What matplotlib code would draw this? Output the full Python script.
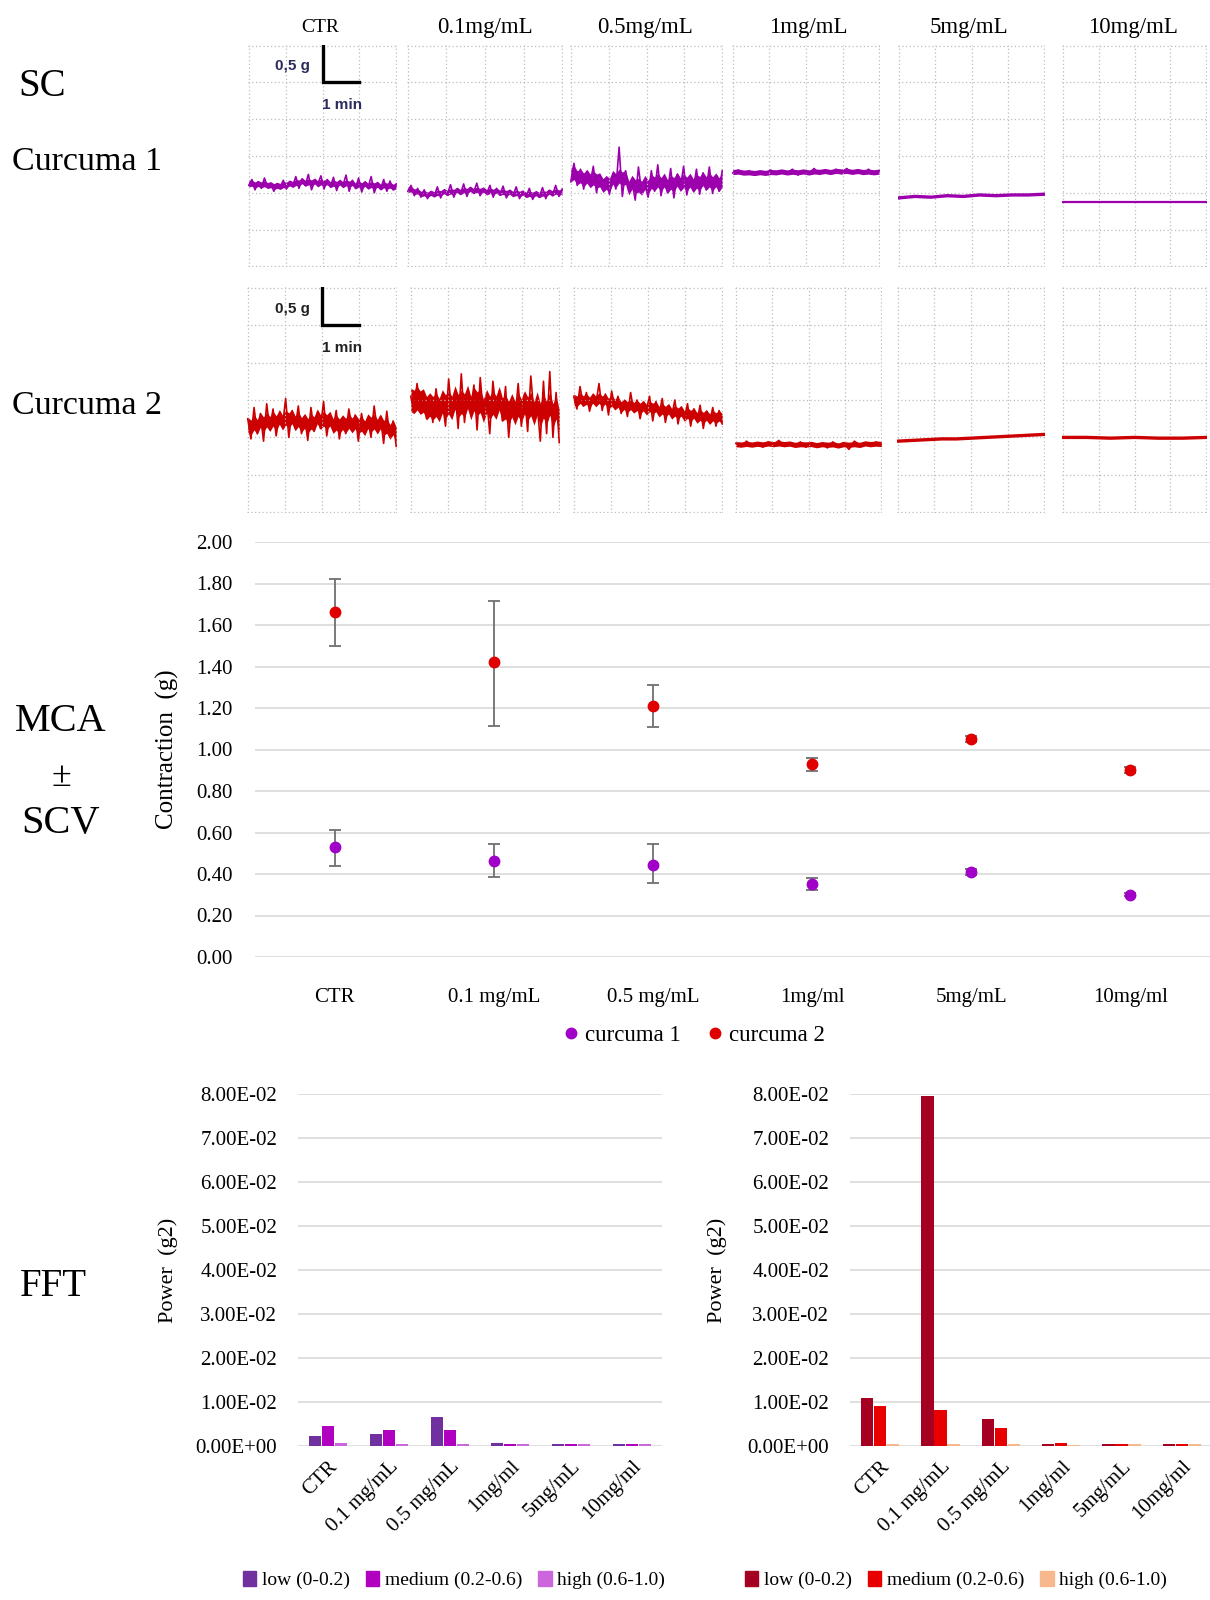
import numpy as np
import matplotlib.pyplot as plt
from matplotlib.patches import Patch
from matplotlib.lines import Line2D
from matplotlib.ticker import FuncFormatter

plt.rcParams['font.family'] = ['Liberation Serif', 'DejaVu Serif']

W, H = 1210, 1600

# ---------------------------------------------------------------------------
# Data
DOSES_HEAD = ["CTR", "0.1mg/mL", "0.5mg/mL", "1mg/mL", "5mg/mL", "10mg/mL"]
DOSES = ["CTR", "0.1 mg/mL", "0.5 mg/mL", "1mg/ml", "5mg/mL", "10mg/ml"]

# Raw traces (g), one list per dose, 4 minutes per panel
TRACE_C1 = [
    [1.10, 1.18, 1.04, 1.15, 1.06, 1.20, 1.08, 1.13, 1.02, 1.12, 1.07, 1.17, 1.05, 1.14, 1.09, 1.22,
     1.06, 1.19, 1.10, 1.25, 1.04, 1.16, 1.12, 1.23, 1.05, 1.18, 1.08, 1.21, 1.03, 1.15, 1.10, 1.24,
     1.02, 1.17, 1.06, 1.20, 1.01, 1.14, 1.07, 1.22, 1.00, 1.13, 1.05, 1.18, 1.02, 1.16, 1.04, 1.12],
    [1.02, 1.10, 0.96, 1.06, 0.94, 1.04, 0.92, 1.01, 0.95, 1.08, 0.93, 1.03, 0.97, 1.11, 0.94, 1.05,
     0.98, 1.12, 0.95, 1.07, 1.00, 1.13, 0.96, 1.04, 0.99, 1.10, 0.94, 1.06, 0.97, 1.09, 0.93, 1.02,
     0.96, 1.08, 0.92, 1.01, 0.95, 1.06, 0.91, 1.00, 0.94, 1.07, 0.92, 1.03, 0.96, 1.10, 0.95, 1.05],
    [1.15, 1.40, 1.10, 1.32, 1.05, 1.28, 1.12, 1.36, 1.00, 1.25, 1.08, 1.18, 0.98, 1.22, 1.05, 1.62,
     0.95, 1.30, 1.02, 1.15, 0.90, 1.35, 1.00, 1.12, 0.94, 1.30, 1.02, 1.38, 0.96, 1.20, 1.00, 1.33,
     0.93, 1.25, 1.05, 1.36, 0.97, 1.18, 1.03, 1.32, 0.98, 1.27, 1.04, 1.35, 0.99, 1.22, 1.02, 1.30],
    [1.27, 1.31, 1.25, 1.30, 1.24, 1.29, 1.26, 1.31, 1.25, 1.30, 1.27, 1.32, 1.24, 1.30, 1.26, 1.33,
     1.25, 1.31, 1.27, 1.32, 1.26, 1.33, 1.27, 1.31, 1.25, 1.32, 1.26, 1.30],
    [0.93, 0.95, 0.94, 0.96, 0.95, 0.97, 0.96, 0.97, 0.97, 0.98],
    [0.88, 0.88, 0.88],
]
TRACE_C2 = [
    [1.25, 0.98, 1.40, 1.05, 1.32, 0.95, 1.45, 1.10, 1.38, 1.02, 1.30, 1.15, 1.52, 1.00, 1.35, 1.12,
     1.42, 1.05, 1.28, 0.96, 1.40, 1.08, 1.33, 1.12, 1.48, 1.02, 1.30, 1.10, 1.36, 0.98, 1.25, 1.05,
     1.38, 1.12, 1.30, 0.95, 1.32, 1.08, 1.26, 1.00, 1.42, 1.10, 1.28, 0.92, 1.35, 1.00, 1.22, 0.88],
    [1.55, 1.35, 1.72, 1.40, 1.60, 1.25, 1.50, 1.20, 1.65, 1.35, 1.48, 1.15, 1.78, 1.30, 1.62, 1.12,
     1.85, 1.20, 1.58, 1.38, 1.70, 1.10, 1.80, 1.28, 1.55, 1.05, 1.75, 1.35, 1.62, 1.22, 1.68, 1.00,
     1.50, 1.25, 1.72, 1.15, 1.58, 1.08, 1.82, 1.30, 1.45, 0.95, 1.75, 1.05, 1.88, 1.00, 1.60, 0.93],
    [1.55, 1.38, 1.68, 1.42, 1.60, 1.35, 1.52, 1.45, 1.72, 1.36, 1.58, 1.30, 1.62, 1.40, 1.55, 1.32,
     1.48, 1.28, 1.60, 1.35, 1.50, 1.25, 1.45, 1.38, 1.55, 1.22, 1.48, 1.30, 1.52, 1.20, 1.42, 1.28,
     1.50, 1.18, 1.40, 1.25, 1.45, 1.15, 1.38, 1.22, 1.43, 1.12, 1.35, 1.20, 1.40, 1.15, 1.36, 1.18],
    [0.92, 0.88, 0.95, 0.89, 0.93, 0.87, 0.94, 0.90, 0.96, 0.88, 0.92, 0.89, 0.94, 0.87, 0.93, 0.90,
     0.92, 0.86, 0.94, 0.89, 0.93, 0.84, 0.95, 0.90, 0.93, 0.88, 0.94, 0.90],
    [0.95, 0.96, 0.97, 0.98, 0.98, 0.99, 1.00, 1.01, 1.02, 1.03, 1.04],
    [1.00, 1.00, 0.99, 1.00, 0.99, 0.99, 1.00],
]

# Mean contraction amplitude with error range (g)
C1_MEAN = [0.53, 0.465, 0.445, 0.35, 0.41, 0.30]
C1_LOW = [0.44, 0.385, 0.355, 0.325, 0.395, 0.295]
C1_HIGH = [0.61, 0.545, 0.545, 0.38, 0.425, 0.31]
C2_MEAN = [1.665, 1.42, 1.21, 0.93, 1.05, 0.90]
C2_LOW = [1.50, 1.115, 1.11, 0.895, 1.035, 0.885]
C2_HIGH = [1.82, 1.715, 1.31, 0.96, 1.065, 0.915]

# FFT power (g2) per band
BANDS = ["low (0-0.2)", "medium (0.2-0.6)", "high (0.6-1.0)"]
FFT_C1 = [
    [0.0023, 0.0027, 0.0065, 0.0007, 0.0004, 0.0004],
    [0.0046, 0.0036, 0.0037, 0.0004, 0.0004, 0.0004],
    [0.0007, 0.0004, 0.0004, 0.0004, 0.0004, 0.0004],
]
FFT_C2 = [
    [0.0110, 0.0795, 0.0062, 0.0004, 0.0004, 0.0004],
    [0.0091, 0.0081, 0.0040, 0.0007, 0.0004, 0.0004],
    [0.0004, 0.0004, 0.0004, 0.0003, 0.0004, 0.0004],
]

# Colours
C1_TRACE = "#9C00AC"
C2_TRACE = "#CC0000"
C1_DOT = "#A000C8"
C2_DOT = "#E00000"
C1_BANDS = ["#7030A0", "#B000C0", "#CC66DD"]
C2_BANDS = ["#A50021", "#E80000", "#F8B88E"]
GRID = "#D9D9D9"

fig = plt.figure(figsize=(W / 100, H / 100), dpi=100)


def px_axes(x0, y0, x1, y1):
    return fig.add_axes([x0 / W, 1 - y1 / H, (x1 - x0) / W, (y1 - y0) / H])


def fig_text(x, y, s, **kw):
    fig.text(x / W, 1 - y / H, s, **kw)


#___________________________________________________________________________
# Traces
ROW1 = (45, 267, [(248, 397), (407, 563), (570, 723), (732, 880), (898, 1045), (1062, 1207)])
ROW2 = (287, 513, [(247, 397), (410, 560), (573, 723), (735, 882), (897, 1045), (1062, 1207)])


def draw_trace_row(row, traces, color, bar_col, txt_col):
    y0, y1, panels = row
    axes = []
    for (x0, x1), vals in zip(panels, traces):
        ax = px_axes(x0, y0, x1, y1)
        v = np.array(vals)
        t = np.linspace(0, 4, len(v))
        if len(v) > 20:
            # dense recording: solid core around the running mean, spikes on top
            pad = np.r_[v[:2], v, v[-2:]]
            mid = np.convolve(pad, np.ones(5) / 5, mode="valid")
            core = max(0.7 * np.std(v - mid), 0.035)
            ax.fill_between(t, mid - core, mid + core, color=color, lw=0)
            ax.plot(t, v, color=color, lw=1.2)
        else:
            ax.plot(t, v, color=color, lw=2.4 if len(v) > 5 else 1.6)
        ax.set_xlim(-0.02, 4.02)
        ax.set_ylim(-0.01, 3.01)
        ax.set_xticks(np.arange(0, 5))
        ax.set_yticks(np.arange(0, 3.01, 0.5))
        ax.grid(True, color="#BDBDBD", lw=0.9, ls=(0, (1, 2)))
        ax.tick_params(length=0, labelbottom=False, labelleft=False)
        for s in ax.spines.values():
            s.set_visible(False)
        axes.append(ax)
    # scale bar in the first panel
    ax = axes[0]
    ax.plot([2.0, 2.0, 3.0], [3.0, 2.5, 2.5], color=bar_col, lw=2.4, solid_joinstyle="miter")
    ax.text(1.66, 2.72, "0,5 g", color=txt_col, fontsize=11, fontweight="bold",
            family="Liberation Sans", ha="right", va="center")
    ax.text(2.0, 2.2, "1 min", color=txt_col, fontsize=11, fontweight="bold",
            family="Liberation Sans", ha="left", va="center")


draw_trace_row(ROW1, TRACE_C1, C1_TRACE, "black", "#2B2B5E")
draw_trace_row(ROW2, TRACE_C2, C2_TRACE, "black", "#222222")

head_x = [320, 485, 645, 808, 969, 1133]
for i, lab in enumerate(DOSES_HEAD):
    fig_text(head_x[i], 27, lab, fontsize=14 if i == 0 else 16.5, ha="center", va="center")

fig_text(18, 86, "SC", fontsize=28, ha="left", va="center")
fig_text(12, 162, "Curcuma 1", fontsize=24.5, ha="left", va="center")
fig_text(12, 406, "Curcuma 2", fontsize=24.5, ha="left", va="center")
fig_text(61, 721, "MCA", fontsize=29, ha="center", va="center")
fig_text(61, 777, "\u00b1", fontsize=26, ha="center", va="center")
fig_text(61, 823, "SCV", fontsize=29, ha="center", va="center")
fig_text(20, 1286, "FFT", fontsize=28, ha="left", va="center")

#___________________________________________________________________________
# Mean contraction amplitude
ax = px_axes(255, 542, 1210, 957)
x = np.arange(len(DOSES))
for mean, lo, hi, col in [(C1_MEAN, C1_LOW, C1_HIGH, C1_DOT), (C2_MEAN, C2_LOW, C2_HIGH, C2_DOT)]:
    mean = np.array(mean)
    yerr = [mean - np.array(lo), np.array(hi) - mean]
    ax.errorbar(x, mean, yerr=yerr, fmt="o", color=col, ms=7.5, ecolor="#707070",
                elinewidth=1.3, capsize=4, capthick=1.3, zorder=3)
ax.set_xlim(-0.5, 5.5)
ax.set_ylim(0, 2.0)
ax.set_yticks(np.arange(0, 2.01, 0.2))
ax.yaxis.set_major_formatter(FuncFormatter(lambda v, p: f"{v:.2f}"))
ax.set_xticks(x)
ax.set_xticklabels(DOSES)
ax.grid(True, axis="y", color=GRID, lw=1.2)
ax.set_axisbelow(True)
ax.tick_params(length=0, labelsize=15)
ax.tick_params(axis="y", pad=16)
ax.tick_params(axis="x", pad=22)
for s in ax.spines.values():
    s.set_visible(False)
ax.set_ylabel("Contraction  (g)", fontsize=18)
ax.yaxis.set_label_coords(-0.08, 0.5)

handles = [Line2D([], [], marker="o", ls="", color=C1_DOT, ms=7.5),
           Line2D([], [], marker="o", ls="", color=C2_DOT, ms=7.5)]
fig.legend(handles, ["curcuma 1", "curcuma 2"], loc="center", bbox_to_anchor=(692 / W, 1 - 1035 / H),
           ncol=2, frameon=False, fontsize=16.5, handletextpad=0.1, columnspacing=1.0, handlelength=1.0)

#___________________________________________________________________________
# FFT bars


def draw_fft(x0, x1, data, colors, label_x, leg_x):
    ax = px_axes(x0, 1094, x1, 1446)
    pos = np.arange(len(DOSES))
    offs = [-0.215, 0, 0.215]
    for k in range(3):
        ax.bar(pos + offs[k], data[k], width=0.2, color=colors[k], zorder=3)
    ax.set_xlim(-0.5, 5.5)
    ax.set_ylim(0, 0.08)
    ax.set_yticks(np.arange(0, 0.0801, 0.01))
    ax.yaxis.set_major_formatter(FuncFormatter(lambda v, p: f"{v:.2E}"))
    ax.set_xticks(pos)
    ax.set_xticklabels(DOSES, rotation=45, ha="right", rotation_mode="anchor")
    ax.grid(True, axis="y", color=GRID, lw=1.2)
    ax.set_axisbelow(True)
    ax.tick_params(length=0, labelsize=15)
    ax.tick_params(axis="y", pad=15)
    ax.tick_params(axis="x", pad=8)
    for s in ax.spines.values():
        s.set_visible(False)
    ax.set_ylabel("Power  (g2)", fontsize=16)
    ax.yaxis.set_label_coords(label_x, 0.5)
    h = [Patch(color=c) for c in colors]
    fig.legend(h, BANDS, loc="center", bbox_to_anchor=(leg_x / W, 1 - 1580 / H), ncol=3,
               frameon=False, fontsize=14, handlelength=0.7, handleheight=0.8,
               handletextpad=0.3, columnspacing=0.8)


draw_fft(298, 662, FFT_C1, C1_BANDS, -0.33, 454)
draw_fft(850, 1212, FFT_C2, C2_BANDS, -0.339, 956)

fig.savefig("out.png", dpi=100)
